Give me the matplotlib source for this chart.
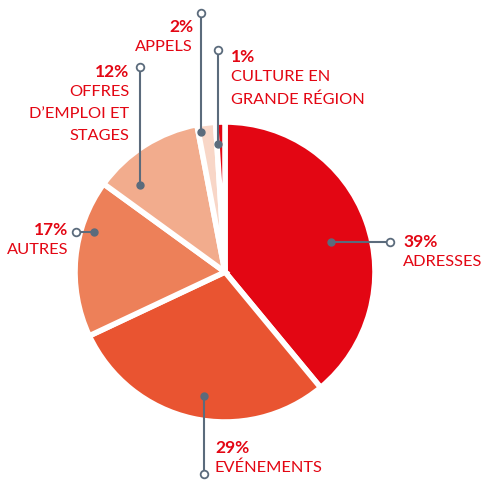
import matplotlib.pyplot as plt

plt.rcParams['font.family'] = ['Lato', 'DejaVu Sans']

# data
labels = ["ADRESSES", "EVÉNEMENTS", "AUTRES", "OFFRES\nD’EMPLOI ET\nSTAGES", "APPELS", "CULTURE EN\nGRANDE RÉGION"]
shares = [39, 29, 17, 12, 2, 1]
colors = ["#e30613", "#e95431", "#ed8059", "#f2ac8d", "#f8d6c7", "#e30613"]

RED = "#e30613"
LINE = "#5b6b7c"
H = 480

fig = plt.figure(figsize=(4.83, 4.80), dpi=100)
ax = fig.add_axes([0, 0, 1, 1])

# pie in pixel coordinates (y measured from the top)
ax.pie(shares, colors=colors, startangle=90, counterclock=False,
       center=(225, H - 272), radius=150,
       wedgeprops=dict(edgecolor="white", linewidth=4))
ax.set_xlim(0, 483)
ax.set_ylim(0, H)
ax.set_aspect("auto")
ax.axis("off")

# leader lines: (dot x, dot y, end x, end y), text anchor (x, y), alignment
leaders = [
    ((331, 242), (390, 242), (403, 242), "left"),
    ((204, 396), (204, 474), (215, 448), "left"),
    ((94, 232), (76, 232), (68, 230), "right"),
    ((140, 185), (140, 67), (129, 72), "right"),
    ((201, 132), (201, 13), (193, 27), "right"),
    ((218, 144), (218, 50), (231, 57), "left"),
]

for (dot, end, txt, ha), lab, s in zip(leaders, labels, shares):
    ax.plot([dot[0], end[0]], [H - dot[1], H - end[1]], color=LINE, lw=1.5, zorder=5)
    ax.plot(dot[0], H - dot[1], "o", color=LINE, ms=5, zorder=6)
    ax.plot(end[0], H - end[1], "o", mfc="white", mec=LINE, mew=1.3, ms=5.5, zorder=6)
    ax.text(txt[0], H - txt[1], f"{s}%", color=RED, fontsize=12.5, fontweight="bold",
            ha=ha, va="center")
    ax.text(txt[0], H - txt[1] - 13, lab, color=RED, fontsize=11.8, ha=ha, va="top",
            linespacing=1.75)

fig.savefig("out.png", dpi=100)
